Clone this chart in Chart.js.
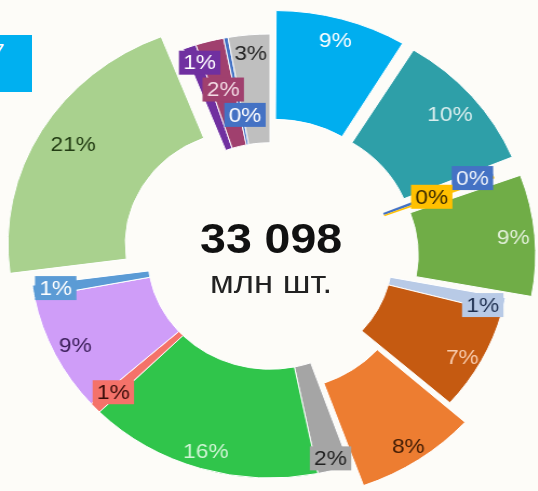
<!DOCTYPE html>
<html>
<head>
<meta charset="utf-8">
<script src="https://cdn.jsdelivr.net/npm/chart.js@4.4.1/dist/chart.umd.min.js"></script>
<style>
    html, body { margin: 0; padding: 0; background: #fdfcf8; overflow: hidden; }
    #stage { position: absolute; left: 0; top: 0; width: 498px; height: 491px; transform: scaleX(1.08); transform-origin: 0 0; }
    #chart { position: absolute; left: 0; top: 0; }
    .total { position: absolute; left: 0; width: 502px; text-align: center; font-family: "Liberation Sans", Arial, sans-serif; }
    #totalValue { top: 217px; font-size: 43px; line-height: 43px; font-weight: bold; color: #111; }
    #totalUnit { top: 266px; font-size: 32px; line-height: 32px; color: #222; }
    #tag { position: absolute; left: 0; top: 35px; width: 29px; height: 57px; background: #00b0f0; overflow: hidden; }
    #tag span { position: absolute; left: -7px; top: 5px; color: #fff; font: 20px "Liberation Sans", Arial, sans-serif; }
</style>
</head>
<body>
<div id="stage">
    <canvas id="chart" width="498" height="491"></canvas>
    <div id="tag"><span>7</span></div>
    <div class="total" id="totalValue">33 098</div>
    <div class="total" id="totalUnit">млн шт.</div>
</div>
<script>
// Сегменты по часовой стрелке, начиная сверху
const categories = [
    'Сегмент 1', 'Сегмент 2', 'Сегмент 3', 'Сегмент 4', 'Сегмент 5', 'Сегмент 6',
    'Сегмент 7', 'Сегмент 8', 'Сегмент 9', 'Сегмент 10', 'Сегмент 11', 'Сегмент 12',
    'Сегмент 13', 'Сегмент 14', 'Сегмент 15', 'Сегмент 16', 'Сегмент 17', 'Сегмент 18'
];
// млн шт.
const values = [2880, 3343, 99, 66, 2880, 364, 2449, 2681, 728, 5229, 265, 2846, 298, 7017, 298, 629, 99, 927];

const sliceColors = [
    '#00aeef', '#2e9fa8', '#4472c4', '#ffc000', '#70ad47', '#b8cae6',
    '#c55a11', '#ed7d31', '#a5a5a5', '#30c54b', '#f4726a', '#cf9df8',
    '#5b9bd5', '#a9d18e', '#7030a0', '#a0406e', '#4472c4', '#bfbfbf'
];

// вынесенные сегменты (offset в Chart.js v4 делится на 4)
const explode = [65, 68, 0, 0, 65, 0, 0, 63, 0, 0, 0, 0, 0, 93, 0, 0, 0, 0];
const borders = [1, 1, 0, 0, 1, 1, 1, 1, 1, 1, 1, 1, 1, 1, 1, 1, 1, 1];

// подписи: расстояние от центра, поворот в градусах, цвет текста, фон плашки
const labelRadius = [224, 219, 203, 161, 226, 203, 205, 229, 210, 204, 199, 201, 201, 214, 204, 172, 143, 204];
const labelTurn = [0, 0, -0.8, -0.7, 0, 1.2, 1.6, 0, 0, 0, 0, 0, 0, 1, 1, 0, 1.3, 0];
const labelColor = [
    '#ffffff', '#d9eeee', '#eef2fa', '#3a2a00', '#e2f0d9', '#1f3050',
    '#f8cbad', '#3f1b05', '#222222', '#d0f5d5', '#3a0d0a', '#3b1e5a',
    '#ffffff', '#233d14', '#ffffff', '#f3dbe5', '#ffffff', '#262626'
];
const labelBox = [
    null, null, '#4472c4', '#ffc000', null, '#b8cae6',
    null, null, '#a5a5a5', null, '#f4726a', null,
    '#5b9bd5', null, '#7030a0', '#a0406e', '#4472c4', null
];

const sliceLabels = {
    id: 'sliceLabels',
    afterDatasetsDraw(chart) {
        const ctx = chart.ctx;
        const meta = chart.getDatasetMeta(0);
        const total = values.reduce((a, b) => a + b, 0);
        ctx.save();
        ctx.font = '21px "Liberation Sans", Arial, sans-serif';
        ctx.textAlign = 'center';
        ctx.textBaseline = 'middle';
        meta.data.forEach((arc, i) => {
            const p = arc.getProps(['x', 'y', 'startAngle', 'endAngle'], true);
            const mid = (p.startAngle + p.endAngle) / 2 + labelTurn[i] * Math.PI / 180;
            const x = p.x + Math.cos(mid) * labelRadius[i];
            const y = p.y + Math.sin(mid) * labelRadius[i];
            const text = Math.round(values[i] / total * 100) + '%';
            if (labelBox[i]) {
                const w = ctx.measureText(text).width + 8;
                ctx.fillStyle = labelBox[i];
                ctx.fillRect(x - w / 2, y - 12, w, 24);
            }
            ctx.fillStyle = labelColor[i];
            ctx.fillText(text, x, y + 1);
        });
        ctx.restore();
    }
};

new Chart(document.getElementById('chart'), {
    type: 'doughnut',
    data: {
        labels: categories,
        datasets: [{
            data: values,
            backgroundColor: sliceColors,
            borderColor: '#ffffff',
            borderWidth: borders,
            offset: explode,
            clip: false
        }]
    },
    options: {
        responsive: false,
        animation: false,
        events: [],
        radius: 222,
        cutout: '51%',
        layout: { padding: { left: 2, right: 0, top: 21, bottom: 0 } },
        plugins: {
            legend: { display: false },
            tooltip: { enabled: false }
        }
    },
    plugins: [sliceLabels]
});
</script>
</body>
</html>
